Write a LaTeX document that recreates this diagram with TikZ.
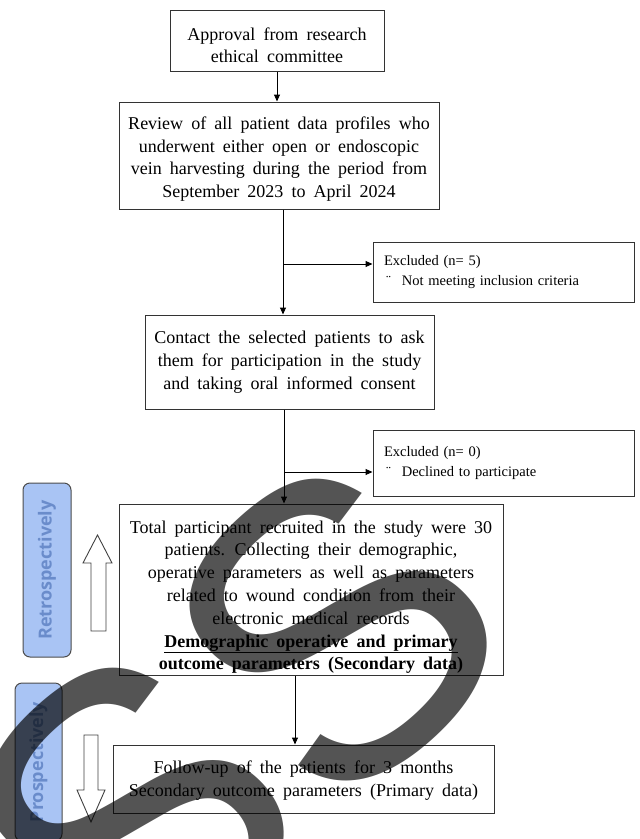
\documentclass[tikz,border=0pt]{standalone}
\usepackage{fontspec}
\setmainfont{Liberation Serif}
\newfontfamily\labelfont{Open Sans}
\newfontfamily\markfont{Liberation Sans}
\usetikzlibrary{arrows.meta}
\definecolor{lblue}{HTML}{A9C4F4}
\definecolor{tblue}{HTML}{6A8CCB}
\newcommand{\dropstrut}[1]{\rule{0pt}{#1}}
\tikzset{
  stepbox/.style={draw=black!80, line width=1pt, align=center, inner sep=0pt,
    font={\fontsize{18}{22.8}\selectfont\spaceskip=0.45em\relax}},
  exclbox/.style={draw=black!80, line width=1pt, align=left, text width=239,
    inner xsep=11, inner ysep=0, font={\fontsize{14.5}{20}\selectfont}},
  phase/.style={draw=black!70, line width=1pt, fill=lblue, rounded corners=7,
    rotate=90, text=tblue, font={\labelfont\bfseries\fontsize{18}{18}\selectfont}},
  hollow/.style={draw=black!75, line width=0.9pt, fill=white},
}
\begin{document}
\begin{tikzpicture}[>={Triangle[length=7pt,width=6pt]}, x=1pt, y=-1pt, line width=1pt]
    \useasboundingbox (0,0) rectangle (640,839);
    % Main steps
    \node[stepbox, minimum width=214, minimum height=61] (approval) at (277,40.5)
        {\dropstrut{22pt}Approval from research\\ ethical committee};
    \node[stepbox, minimum width=320, minimum height=107] (review) at (279,155.5)
        {\dropstrut{20pt}Review of all patient data profiles who\\ underwent either open or endoscopic\\
         vein harvesting during the period from\\ September 2023 to April 2024};
    \node[stepbox, minimum width=289, minimum height=94] (contact) at (289.5,362)
        {Contact the selected patients to ask\\ them for participation in the study\\
         and taking oral informed consent};
    \node[stepbox, minimum width=384, minimum height=171] (total) at (311,589.5)
        {\dropstrut{28pt}Total participant recruited in the study were 30\\
         patients. Collecting their demographic,\\ operative parameters as well as parameters\\
         related to wound condition from their\\ electronic medical records\\
         \textbf{\underline{Demographic operative and primary}}\\
         \textbf{outcome parameters (Secondary data)}};
    \node[stepbox, minimum width=381, minimum height=68] (follow) at (303.5,779)
        {\dropstrut{16pt}Follow-up of the patients for 3 months\\
         Secondary outcome parameters (Primary data)};
    % Exclusions
    \node[exclbox, minimum height=60] (excl1) at (503.5,272)
        {Excluded (n= 5)\\ \hspace*{2pt}¨\hspace{11pt}Not meeting inclusion criteria};
    \node[exclbox, minimum height=66] (excl2) at (503.5,463)
        {Excluded (n= 0)\\ \hspace*{2pt}¨\hspace{11pt}Declined to participate};
    % Flow
    \coordinate (split1) at (283,264);
    \coordinate (split2) at (284,472);
    \coordinate (drop) at (295,0);
    \draw[->] (approval.south) -- (approval.south |- review.north);
    \draw[->] (review.south -| split1) -- (contact.north -| split1);
    \draw[->] (split1) -- (split1 -| excl1.west);
    \draw[->] (contact.south -| split2) -- (total.north -| split2);
    \draw[->] (split2) -- (split2 -| excl2.west);
    \draw[->] (total.south -| drop) -- (follow.north -| drop);
    % Phases
    \node[phase, minimum width=174, minimum height=48] (retro) at (47,570) {Retrospectively};
    \node[phase, minimum width=158, minimum height=47] (prosp) at (38.5,762) {Prospectively};
    \draw[hollow] (91,631) -- (91,563) -- (83,563) -- (97.5,535) -- (112,563)
        -- (106,563) -- (106,631) -- cycle;
    \draw[hollow] (84,735) -- (98,735) -- (98,790) -- (105,790) -- (91,822)
        -- (77,790) -- (84,790) -- cycle;
    % Overlay
    \node[rotate=43, text=black, text opacity=0.67, inner sep=0pt,
        font={\markfont\fontsize{415}{415}\selectfont}] (mark) at (234,724) {SS};
\end{tikzpicture}
\end{document}
